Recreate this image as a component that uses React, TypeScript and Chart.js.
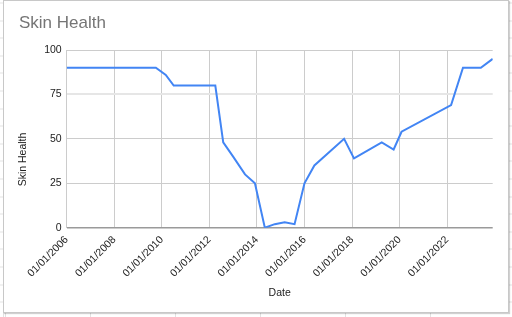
import React, { useEffect, useRef } from "react";
import { Chart, registerables } from "chart.js";

Chart.register(...registerables);

// ---- Data ----
const DATES = [
  "01/01/2006", "10/01/2009", "03/01/2010", "07/01/2010", "04/01/2012",
  "08/01/2012", "01/01/2013", "07/01/2013", "12/01/2013", "05/01/2014",
  "10/01/2014", "03/01/2015", "08/01/2015", "01/01/2016", "06/01/2016",
  "09/01/2017", "02/01/2018", "04/01/2019", "10/01/2019", "02/01/2020",
  "03/01/2022", "09/01/2022", "06/01/2023", "12/01/2023",
];
const SKIN_HEALTH = [
  90, 90, 86, 80, 80,
  48, 40, 30, 25, 0,
  2, 3, 2, 25, 35,
  50, 39, 48, 44, 54,
  69, 90, 90, 95,
];
const X_TICK_YEARS = [2006, 2008, 2010, 2012, 2014, 2016, 2018, 2020, 2022];
const Y_TICKS = [0, 25, 50, 75, 100];

const TITLE = "Skin Health";
const X_TITLE = "Date";
const Y_TITLE = "Skin Health";

const FONT = '"Liberation Sans", Arial, sans-serif';

function toYear(d: string): number {
  const [m, day, y] = d.split("/").map(Number);
  return y + (m - 1) / 12 + (day - 1) / 365;
}

const yTitlePlugin = {
  id: "yTitlePlugin",
  afterDraw(chart: any) {
    const { ctx, chartArea } = chart;
    ctx.save();
    ctx.font = `10.5px ${FONT}`;
    ctx.fillStyle = "#222222";
    ctx.textAlign = "center";
    ctx.textBaseline = "middle";
    ctx.translate(chartArea.left - 43.5, chart.height / 2 + 1);
    ctx.rotate(-Math.PI / 2);
    ctx.fillText(Y_TITLE, 0, 0);
    ctx.restore();
  },
};

export default function App() {
  const ref = useRef<HTMLCanvasElement | null>(null);

  useEffect(() => {
    if (!ref.current) return;
    const points = DATES.map((d, i) => ({ x: toYear(d), y: SKIN_HEALTH[i] }));
    const xMin = toYear(DATES[0]);
    const xMax = toYear(DATES[DATES.length - 1]);
    const chart = new Chart(ref.current, {
      type: "line",
      data: {
        datasets: [
          {
            label: Y_TITLE,
            data: points,
            borderColor: "#4285f4",
            borderWidth: 2,
            pointRadius: 0,
            tension: 0,
            fill: false,
          },
        ],
      },
      options: {
        animation: false,
        responsive: false,
        maintainAspectRatio: false,
        events: [],
        layout: { padding: { left: 19, right: 19.3, top: 0, bottom: 0 } },
        plugins: {
          legend: { display: false },
          tooltip: { enabled: false },
          title: {
            display: true,
            text: TITLE,
            align: "start",
            color: "#757575",
            font: { family: FONT, size: 17, weight: "normal", lineHeight: 1.2 },
            padding: { top: 13.4, bottom: 16.2 },
          },
        },
        scales: {
          x: {
            type: "linear",
            min: xMin,
            max: xMax,
            afterBuildTicks: (s: any) => {
              s.ticks = X_TICK_YEARS.map((v) => ({ value: v }));
            },
            afterFit: (s: any) => {
              s.height = 89.3;
            },
            ticks: {
              autoSkip: false,
              minRotation: 45,
              maxRotation: 45,
              padding: 6,
              color: "#222222",
              font: { family: FONT, size: 10.5 },
              callback: (v: any) => "01/01/" + v,
            },
            grid: { color: "#cccccc", lineWidth: 1, drawTicks: false },
            border: { display: false },
            title: {
              display: true,
              text: X_TITLE,
              color: "#222222",
              font: { family: FONT, size: 10.5, lineHeight: 1.2 },
              padding: { top: 0, bottom: 17.7 },
            },
          },
          y: {
            min: 0,
            max: 100,
            afterBuildTicks: (s: any) => {
              s.ticks = Y_TICKS.map((v) => ({ value: v }));
            },
            afterFit: (s: any) => {
              s.width = 47.7;
            },
            ticks: {
              padding: 5,
              color: "#222222",
              font: { family: FONT, size: 10.5 },
            },
            grid: {
              drawTicks: false,
              color: (c: any) =>
                c.tick && c.tick.value === 0 ? "#9a9a9a" : c.tick && c.tick.value === 75 ? "#e6e6e6" : "#cccccc",
              lineWidth: (c: any) =>
                c.tick && c.tick.value === 0 ? 1.5 : c.tick && c.tick.value === 75 ? 2 : 1,
            },
            border: { display: false },
            title: { display: false },
          },
        },
      } as any,
      plugins: [yTitlePlugin],
    });
    return () => chart.destroy();
  }, []);

  const sheetBg =
    "repeating-linear-gradient(to right, #e2e2e2 0px, #e2e2e2 1px, transparent 1px, transparent 85px)," +
    "repeating-linear-gradient(to bottom, #e2e2e2 0px, #e2e2e2 1px, transparent 1px, transparent 17.6px)";

  return (
    <div
      style={{
        position: "fixed",
        left: 0,
        top: 0,
        width: 512,
        height: 317,
        overflow: "hidden",
        background: "#ffffff",
        backgroundImage: sheetBg,
        backgroundPosition: "5px 2.5px",
      }}
    >
      <div
        style={{
          position: "absolute",
          left: 3,
          top: 0,
          width: 504,
          height: 311,
          background: "#ffffff",
          border: "1px solid #c8c8c8",
          boxShadow: "1px 1px 1px rgba(0,0,0,0.18)",
        }}
      />
      <canvas
        ref={ref}
        width={512}
        height={317}
        style={{ position: "absolute", left: 0, top: 0, width: 512, height: 317 }}
      />
    </div>
  );
}
